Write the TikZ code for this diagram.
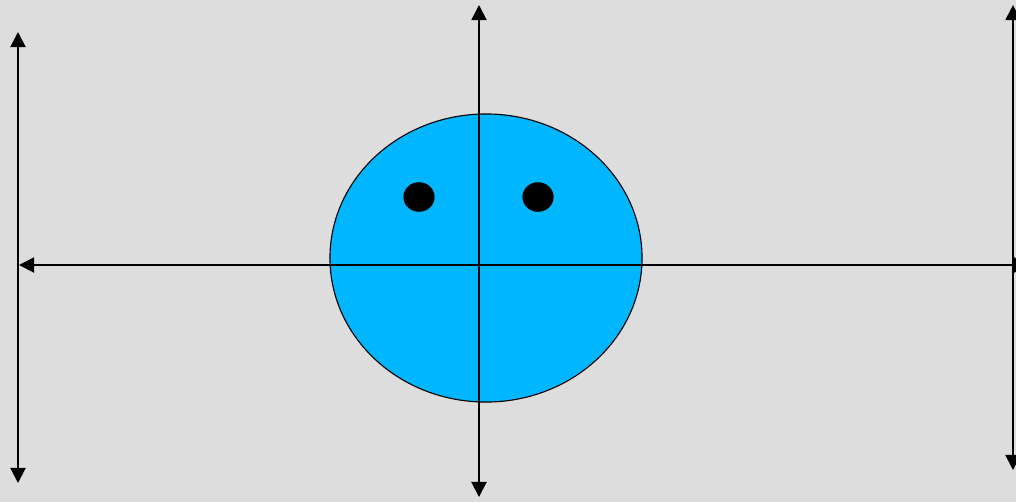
\documentclass[tikz,border=0pt]{standalone}
\usepackage{xcolor}
\usetikzlibrary{shapes.geometric,arrows.meta,positioning}
\definecolor{facebg}{HTML}{DDDDDD}
\definecolor{faceblue}{HTML}{00B7FF}

\begin{document}
\begin{tikzpicture}[
    x=0.025cm, y=-0.025cm,
    face/.style={ellipse, draw, line width=0.8pt, fill=faceblue, minimum width=7.8cm, minimum height=7.2cm, inner sep=0pt},
    eye/.style={ellipse, fill=black, minimum width=0.78cm, minimum height=0.74cm, inner sep=0pt},
    axis/.style={{Triangle[length=0.38cm,width=0.38cm]}-{Triangle[length=0.38cm,width=0.38cm]}, line width=1.4pt}
]
    \fill[facebg] (0,0) rectangle (1016,502);
    \useasboundingbox (0,0) rectangle (1016,502);
    \clip (0,0) rectangle (1016,502);

    \node[face] (head) at (486,258) {};
    \node[eye] (leye) at (419,197) {};
    \node[eye] (reye) at (538,197) {};

    \coordinate (ltop) at (18,32);
    \coordinate (lbot) at (18,483);
    \coordinate (ctop) at (479,5);
    \coordinate (cbot) at (479,497);
    \coordinate (rtop) at (1013,5);
    \coordinate (rbot) at (1013,470);
    \coordinate (hleft) at (19,265);
    \coordinate (hright) at (1029,265);

    \draw[axis] (ltop) -- (lbot);
    \draw[axis] (rtop) -- (rbot);
    \draw[axis] (ctop) -- (cbot);
    \draw[axis] (hleft) -- (hright);
\end{tikzpicture}
\end{document}
